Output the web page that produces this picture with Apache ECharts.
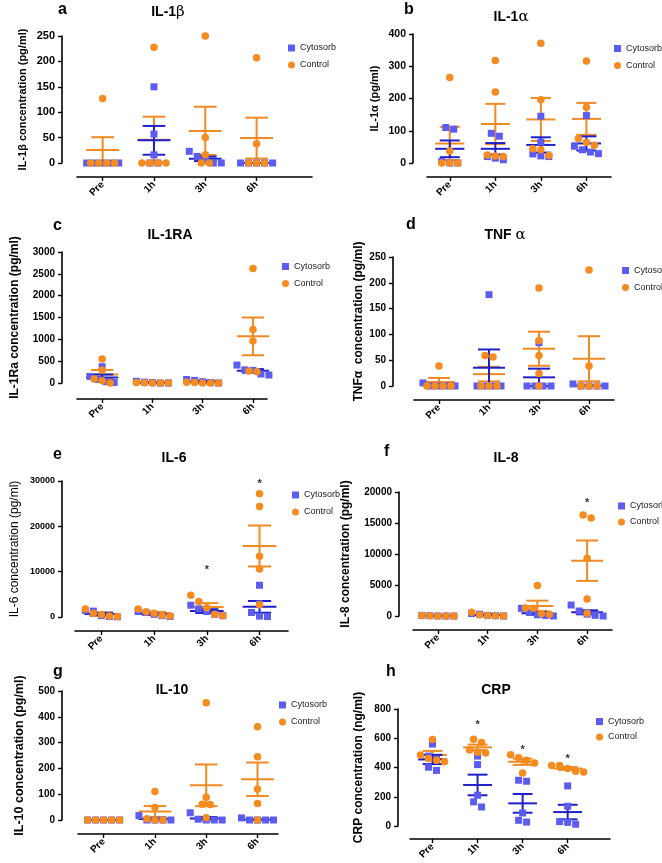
<!DOCTYPE html>
<html><head><meta charset="utf-8">
<script src="https://cdn.jsdelivr.net/npm/echarts@6/dist/echarts.min.js"></script>
<style>html,body{margin:0;padding:0;background:#fff}#c{width:662px;height:863px}</style>
</head><body><div id="c"></div>
<script>
// ---------- DATA ----------
const categories = ['Pre', '1h', '3h', '6h'];
const seriesNames = ['Cytosorb', 'Control'];

// a: IL-1β (pg/ml)
const il1bCytosorb = [[0,0,0,0,0],[150,57,16,0,0],[23,13,5,0,0],[0,0,0,0,0]];
const il1bControl  = [[127,0,0,0,0],[228,0,0,0,0],[250,50,16,0,0],[207,38,0,0,0]];
const il1bStars = [null,null,null,null];
const il1bAxis = [0, 250, 50];

// b: IL-1α (pg/ml)
const il1aCytosorb = [[110,105,5,0,0],[92,83,20,15,10],[145,65,28,22,20],[147,41,29,34,52]];
const il1aControl  = [[265,37,0,0,0],[318,220,22,20,25],[371,196,41,44,23],[316,173,76,64,55]];
const il1aStars = [null,null,null,null];
const il1aAxis = [0, 400, 100];

// c: IL-1RA (pg/ml)
const il1raCytosorb = [[373,150,80,30,10],[40,20,10,0,0],[80,60,30,10,0],[411,300,290,206,183]];
const il1raControl  = [[548,297,91,50,0],[10,5,0,0,0],[20,10,0,0,0],[2620,1226,960,274,259]];
const il1raStars = [null,null,null,null];
const il1raAxis = [0, 3000, 500];

// d: TNFα (pg/ml)
const tnfCytosorb = [[6,0,0,0,0],[177,0,0,0,0],[84,0,0,0,0],[4,0,0,0,0]];
const tnfControl  = [[39,0,0,0,0],[59,56,0,0,0],[190,88,59,24,0],[225,39,0,0,0]];
const tnfStars = [null,null,null,null];
const tnfAxis = [0, 250, 50];

// e: IL-6 (pg/ml)
const il6Cytosorb = [[1450,1300,300,100,50],[1200,1000,600,300,100],[2600,1800,1200,600,300],[7000,2900,1000,200,100]];
const il6Control  = [[1740,800,500,200,100],[1740,1160,800,400,200],[4780,3400,2030,600,300],[27200,24400,13400,10600,2720]];
const il6Stars = [null,null,11000,30000];
const il6Axis = [0, 30000, 10000];

// f: IL-8 (pg/ml)
const il8Cytosorb = [[100,50,0,0,0],[400,300,100,50,0],[1240,600,200,100,0],[1770,800,300,100,0]];
const il8Control  = [[100,50,0,0,0],[600,200,100,50,0],[4900,1300,1240,400,300],[16300,15820,9330,2740,430]];
const il8Stars = [null,null,null,18700];
const il8Axis = [0, 20000, 5000];

// g: IL-10 (pg/ml)
const il10Cytosorb = [[0,0,0,0,0],[17,0,0,0,0],[28,3,0,0,0],[8,0,0,0,0]];
const il10Control  = [[0,0,0,0,0],[110,48,5,0,0],[454,88,61,60,9],[361,245,120,64,0]];
const il10Stars = [null,null,null,null];
const il10Axis = [0, 500, 100];

// h: CRP (ng/ml)
const crpCytosorb = [[560,478,455,402,380],[478,420,210,165,130],[313,306,89,39,27],[274,135,30,25,12]];
const crpControl  = [[592,485,462,450,440],[594,571,519,505,500],[487,466,450,430,363],[414,414,393,375,370]];
const crpStars = [null,713,542,480];
const crpAxis = [0, 800, 200];

const panelLetters = ['a','b','c','d','e','f','g','h'];
const panelTitles = [['IL-1','β'],['IL-1','α'],['IL-1RA',''],['TNF ','α'],['IL-6',''],['IL-8',''],['IL-10',''],['CRP','']];
const yNames = ['IL-1β concentration (pg/ml)','IL-1α (pg/ml)','IL-1Ra concentration (pg/ml)','TNFα  concentration (pg/ml)',
  'IL-6 concentration (pg/ml)','IL-8 concentration (pg/ml)','IL-10 concentration (pg/ml)','CRP concentration (ng/ml)'];

const panelData = [
  [il1bCytosorb, il1bControl, il1bStars, il1bAxis],
  [il1aCytosorb, il1aControl, il1aStars, il1aAxis],
  [il1raCytosorb, il1raControl, il1raStars, il1raAxis],
  [tnfCytosorb, tnfControl, tnfStars, tnfAxis],
  [il6Cytosorb, il6Control, il6Stars, il6Axis],
  [il8Cytosorb, il8Control, il8Stars, il8Axis],
  [il10Cytosorb, il10Control, il10Stars, il10Axis],
  [crpCytosorb, crpControl, crpStars, crpAxis]
];

// ---------- LAYOUT ----------
const layout = [
 {left:77, top:36, width:235, height:127, xMax:4.08, yOff:15, xOff:14, nameGap:34, nameSize:11, nameWeight:'bold', tickSize:11, tx:168, ty:12, lx:58, ly:9.5, legLeft:283, legTop:37.5, legGap:6},
 {left:427, top:34, width:184, height:129, xMax:3.54, yOff:14, xOff:14, nameGap:33, nameSize:11, nameWeight:'bold', tickSize:10.5, tx:511, ty:17, lx:404, ly:9.5, legLeft:609, legTop:38, legGap:6},
 {left:77, top:252, width:190, height:131, xMax:3.28, yOff:15, xOff:16, nameGap:41, nameSize:12, nameWeight:'bold', tickSize:10, tx:170, ty:235, lx:53, ly:225.5, legLeft:277, legTop:256, legGap:6},
 {left:414, top:257, width:200, height:129, xMax:3.5, yOff:21, xOff:14, nameGap:28, nameSize:12, nameWeight:'bold', tickSize:10, tx:505, ty:235, lx:406, ly:224.5, legLeft:617, legTop:260, legGap:6},
 {left:75, top:481, width:213, height:136, xMax:3.54, yOff:13, xOff:14, nameGap:41, nameSize:12, nameWeight:'normal', tickSize:9, tx:174, ty:458, lx:53, ly:454.5, legLeft:287, legTop:484.5, legGap:6},
 {left:413, top:492, width:199, height:124, xMax:3.5, yOff:14, xOff:14, nameGap:47, nameSize:12, nameWeight:'bold', tickSize:10, tx:506, ty:458, lx:384, ly:451.5, legLeft:613, legTop:495.5, legGap:5},
 {left:78, top:691, width:200, height:129, xMax:3.4, yOff:16, xOff:14, nameGap:36, nameSize:12.5, nameWeight:'bold', tickSize:10, tx:172, ty:690, lx:53, ly:671.5, legLeft:274, legTop:694.5, legGap:6},
 {left:410, top:709, width:200, height:117, xMax:3.94, yOff:12, xOff:13, nameGap:33, nameSize:12, nameWeight:'bold', tickSize:10, tx:496, ty:690, lx:386, ly:671.5, legLeft:591, legTop:711, legGap:4.5}
];

const FF = '"Liberation Sans", Arial, Helvetica, sans-serif';
const BLUE = '#5c5cf0', ORANGE = '#f68b1f', BLUE_BAR = '#2020c8', ORANGE_BAR = '#f08a22';
const xMin = -0.5;

function stats(arr) {
  const n = arr.length, m = arr.reduce((a, b) => a + b, 0) / n;
  const sd = Math.sqrt(arr.reduce((a, b) => a + (b - m) * (b - m), 0) / (n - 1));
  return [m, sd / Math.sqrt(n)];
}
function jitter(vals, pxPerUnit, step) {
  const idx = vals.map((v, i) => i).sort((a, b) => vals[b] - vals[a]);
  const offs = new Array(vals.length).fill(0);
  let cl = [idx[0]];
  const flush = () => { const k = cl.length; cl.forEach((j, n) => { offs[j] = (n - (k - 1) / 2) * step; }); };
  for (let n = 1; n < idx.length; n++) {
    const prev = cl[cl.length - 1];
    if ((vals[prev] - vals[idx[n]]) * pxPerUnit < 6.5) cl.push(idx[n]); else { flush(); cl = [idx[n]]; }
  }
  flush();
  return offs;
}
function errRender(params, api) {
  const x = api.value(0), m = api.value(1), lo = api.value(2), hi = api.value(3);
  const pm = api.coord([x, m]), pl = api.coord([x, lo]), ph = api.coord([x, hi]);
  const unit = api.size([1, 0])[0];
  const hw = unit * 0.32, cw = unit * 0.22;
  const c = api.visual('color');
  const st = () => ({ stroke: c, lineWidth: 2 });
  return { type: 'group', children: [
    { type: 'line', shape: { x1: pm[0] - hw, y1: pm[1], x2: pm[0] + hw, y2: pm[1] }, style: st() },
    { type: 'line', shape: { x1: pl[0], y1: pl[1], x2: ph[0], y2: ph[1] }, style: st() },
    { type: 'line', shape: { x1: pl[0] - cw, y1: pl[1], x2: pl[0] + cw, y2: pl[1] }, style: st() },
    { type: 'line', shape: { x1: ph[0] - cw, y1: ph[1], x2: ph[0] + cw, y2: ph[1] }, style: st() }
  ]};
}
function starRender(params, api) {
  const p = api.coord([api.value(0), api.value(1)]);
  return { type: 'text', x: p[0], y: p[1] + 3, style: { text: '*', fill: '#333', font: 'bold 11px ' + FF, align: 'center', verticalAlign: 'middle' } };
}

const grid = [], xAxis = [], yAxis = [], series = [], legend = [], graphic = [];
panelData.forEach((pd, i) => {
  const L = layout[i];
  const [cyto, ctrl, stars, ax] = pd;
  grid.push({ left: L.left, top: L.top, width: L.width, height: L.height });
  const spacing = L.width / (L.xMax - xMin);
  const pxPerUnit = L.height / (ax[1] - ax[0]);
  xAxis.push({ type: 'value', gridIndex: i, min: xMin, max: L.xMax, offset: L.xOff,
    splitLine: { show: false },
    axisLine: { show: true, onZero: false, lineStyle: { color: '#000', width: 1.6 } },
    axisTick: { show: true, customValues: [0, 1, 2, 3], length: 4, lineStyle: { color: '#000', width: 1.4 } },
    axisLabel: { customValues: [0, 1, 2, 3], formatter: v => categories[Math.round(v)] || '', rotate: 45, margin: 6,
      fontSize: 10, fontWeight: 'bold', color: '#000', fontFamily: FF }
  });
  yAxis.push({ type: 'value', gridIndex: i, min: ax[0], max: ax[1], interval: ax[2], offset: L.yOff,
    splitLine: { show: false },
    axisLine: { show: true, onZero: false, lineStyle: { color: '#000', width: 1.6 } },
    axisTick: { show: true, length: 4, lineStyle: { color: '#000', width: 1.4 } },
    axisLabel: { margin: 7, fontSize: L.tickSize, fontWeight: 'bold', color: '#000', fontFamily: FF, formatter: v => String(v) },
    name: yNames[i], nameLocation: 'middle', nameGap: L.nameGap,
    nameTextStyle: { fontSize: L.nameSize, fontWeight: L.nameWeight, color: '#000', fontFamily: FF }
  });
  const pts = (groups) => {
    const out = [];
    groups.forEach((vals, c) => {
      const offs = jitter(vals, pxPerUnit, 8 / spacing);
      vals.forEach((v, k) => out.push([c + offs[k], v]));
    });
    return out;
  };
  const bars = (groups) => groups.map((vals, c) => {
    const [m, se] = stats(vals);
    return [c, m, Math.max(ax[0], m - se), Math.min(ax[1] * 1.2, m + se)];
  });
  series.push({ type: 'scatter', name: 'Cytosorb', xAxisIndex: i, yAxisIndex: i, symbol: 'rect', symbolSize: 7,
    itemStyle: { color: BLUE, opacity: 1 }, clip: false, silent: true, data: pts(cyto) });
  series.push({ type: 'scatter', name: 'Control', xAxisIndex: i, yAxisIndex: i, symbol: 'circle', symbolSize: 7.5,
    itemStyle: { color: ORANGE, opacity: 1 }, clip: false, silent: true, data: pts(ctrl) });
  series.push({ type: 'custom', name: 'ctrl-sem-' + i, xAxisIndex: i, yAxisIndex: i, itemStyle: { color: ORANGE_BAR },
    renderItem: errRender, silent: true, data: bars(ctrl) });
  series.push({ type: 'custom', name: 'cyto-sem-' + i, xAxisIndex: i, yAxisIndex: i, itemStyle: { color: BLUE_BAR },
    renderItem: errRender, silent: true, data: bars(cyto) });
  const starPts = stars.map((s, c) => s == null ? null : [c, s]).filter(Boolean);
  if (starPts.length) series.push({ type: 'custom', name: 'stars-' + i, xAxisIndex: i, yAxisIndex: i,
    renderItem: starRender, silent: true, data: starPts });
  legend.push({ orient: 'vertical', left: L.legLeft, top: L.legTop, itemGap: L.legGap, itemWidth: 7, itemHeight: 7,
    selectedMode: false, textStyle: { fontSize: 9, color: '#222', fontFamily: FF, lineHeight: 11 },
    data: [{ name: 'Cytosorb', icon: 'rect' }, { name: 'Control', icon: 'circle' }] });
  graphic.push({ type: 'text', x: L.lx, y: L.ly, style: { text: panelLetters[i], font: 'bold 16px ' + FF, fill: '#000', align: 'left', verticalAlign: 'middle' } });
  const t = panelTitles[i];
  graphic.push({ type: 'text', x: L.tx, y: L.ty, style: {
    text: '{a|' + t[0] + '}' + (t[1] ? '{g|' + t[1] + '}' : ''), align: 'center', verticalAlign: 'middle',
    rich: { a: { font: 'bold 14px ' + FF, fill: '#000' }, g: { font: '15px "DejaVu Serif", serif', fill: '#000' } } } });
});

const chart = echarts.init(document.getElementById('c'), null, { renderer: 'canvas' });
chart.setOption({ animation: false, backgroundColor: '#fff', grid, xAxis, yAxis, series, legend, graphic });
</script></body></html>
